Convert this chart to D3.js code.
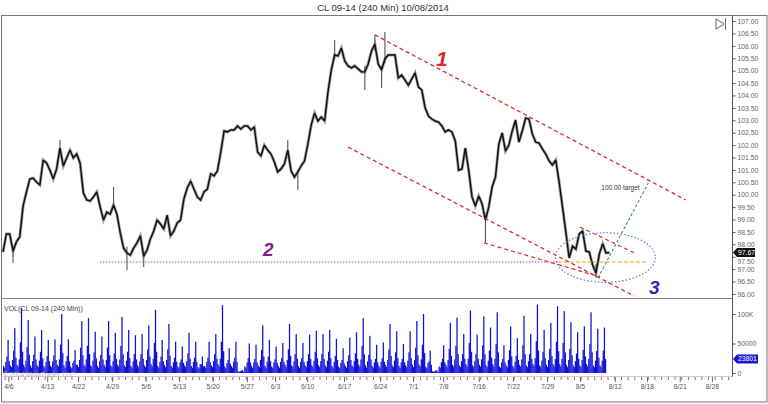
<!DOCTYPE html>
<html><head><meta charset="utf-8">
<script src="https://cdn.jsdelivr.net/npm/d3@7/dist/d3.min.js"></script>
<style>body{margin:0;background:#fff}svg{display:block;font-family:Arial,"Liberation Sans",sans-serif}</style>
</head><body><svg id="c" width="768" height="404"></svg>
<script>
// ---------- DATA ----------
const title = "CL 09-14 (240 Min)  10/08/2014";
const volTitle = "VOL(CL 09-14 (240 Min))";
const copyright = "\u00a9 2014 NinjaTrader, LLC";
// close every half trading day (day index = i * 0.5)
const closeStep = 0.5;
const closes = [97.69,98.42,98.42,97.73,98.10,98.30,99.55,100.11,100.63,100.67,
100.51,100.39,101.40,101.28,100.99,100.63,101.04,101.88,101.16,101.48,
101.80,101.48,101.64,101.28,100.07,99.79,99.75,99.91,100.11,99.51,
98.98,99.30,99.22,99.59,99.22,98.46,97.85,97.65,97.57,97.85,
98.06,98.34,97.53,97.77,98.22,98.54,98.98,98.82,98.62,99.18,
98.34,98.54,98.86,98.98,99.83,100.27,100.55,100.23,99.91,99.79,
100.11,100.23,100.84,100.76,100.96,101.72,102.57,102.53,102.61,102.61,
102.77,102.65,102.77,102.77,102.61,102.73,101.72,101.56,102.00,101.80,
101.64,101.32,100.92,101.04,101.24,101.80,100.96,100.71,100.92,101.16,
101.36,102.04,102.81,103.29,102.97,103.13,102.97,104.14,105.03,105.63,
105.59,105.91,105.39,105.19,105.11,105.19,105.07,104.95,104.95,105.27,
105.79,106.07,105.27,105.03,105.47,105.63,105.63,105.63,104.70,104.82,
104.62,104.42,104.66,104.91,104.34,104.22,103.50,103.17,103.05,102.97,
102.93,102.77,102.53,102.61,102.53,102.17,100.99,101.04,101.88,100.99,
99.91,99.55,99.95,99.63,98.98,99.51,100.31,100.71,102.04,102.49,
101.76,102.00,102.57,103.01,102.12,102.57,103.09,103.05,102.45,102.12,
102.08,101.85,101.64,101.36,101.20,101.40,100.51,99.51,98.50,97.45,
97.93,97.81,98.42,98.54,97.73,97.69,97.17,96.85,97.61,98.02,
97.65,97.67];
// notable wicks (index into closes, high, low)
const wickIdx  = [3,17,33,37,42,85,88,99,108,111,113,114,144,177];
const wickHigh = [97.90,102.21,100.31,97.90,97.70,102.20,101.00,106.23,105.20,106.44,105.20,106.56,99.20,97.20];
const wickLow  = [97.25,101.70,99.50,96.97,97.09,101.60,100.19,105.50,104.22,105.80,104.30,105.30,98.06,96.65];
const lastPrice = 97.67;
// volume per trading day, six 240-min sessions, in thousands of contracts
const volume = [
[12,9,19,28,56,20],[13,10,22,38,76,26],[14,11,23,52,110,36],[14,10,21,44,90,31],[13,9,20,31,62,23],
[13,10,21,36,73,25],[12,9,19,29,56,20],[12,10,20,30,57,22],[14,11,23,48,100,34],[13,9,20,29,57,20],
[11,8,17,21,39,14],[14,10,22,43,88,30],[14,11,23,46,93,32],[13,10,21,35,70,25],[12,9,20,31,62,23],
[14,10,22,43,88,30],[13,10,20,33,68,24],[14,11,23,46,95,32],[13,10,21,36,73,25],[12,9,20,32,64,23],
[13,10,20,32,66,24],[13,10,22,40,81,28],[15,11,24,51,107,36],[12,9,19,28,56,20],[14,10,22,40,83,29],
[12,9,18,26,53,19],[11,9,18,23,45,17],[13,10,20,33,68,24],[12,9,19,26,53,19],[10,8,15,15,28,11],
[12,9,19,26,53,19],[13,10,20,32,66,24],[15,11,24,53,115,37],[11,8,17,22,42,16],[12,9,19,26,53,19],
[3,2,3,4,5,2],[11,9,18,25,50,18],[12,9,18,24,48,18],[13,10,22,39,81,28],[12,9,19,28,56,20],
[11,9,18,23,45,17],[12,9,19,25,51,19],[14,10,22,40,83,29],[13,10,20,32,66,24],[12,9,19,25,51,19],
[13,10,20,32,65,24],[13,10,21,36,72,25],[13,10,20,32,66,24],[13,10,21,36,73,25],[12,9,19,29,58,22],
[11,8,17,22,42,16],[12,9,20,30,60,22],[13,10,20,33,69,24],[14,11,23,46,93,32],[13,9,20,31,63,23],
[12,9,18,24,48,18],[12,9,19,25,52,19],[14,10,22,40,83,29],[13,10,21,35,71,25],[12,9,18,24,49,18],
[13,10,21,35,71,25],[14,10,22,43,88,30],[14,11,23,48,100,34],[11,8,17,20,38,14],[3,2,3,4,5,2],
[11,9,18,24,47,18],[14,10,22,41,85,29],[14,11,23,46,94,32],[13,10,20,32,66,24],[15,11,24,51,106,36],
[13,10,20,32,65,24],[14,11,23,47,96,32],[13,10,21,38,77,26],[15,11,24,49,103,35],[11,9,18,24,47,18],
[13,10,22,39,79,28],[12,9,19,29,59,22],[14,11,23,47,97,32],[13,10,20,32,66,24],[15,12,25,54,116,38],
[13,10,21,36,73,25],[14,10,22,41,85,29],[15,11,24,53,113,37],[15,11,24,51,105,35],[14,10,22,41,86,30],
[13,10,20,33,69,24],[13,10,22,39,79,28],[15,11,24,49,103,35],[13,10,21,37,75,26],[13,10,21,38,77,23.801]];
const lastVolume = 23801;
// axes
const priceTicks = [96,96.5,97,97.5,98,98.5,99,99.5,100,100.5,101,101.5,102,102.5,103,103.5,104,104.5,105,105.5,106,106.5,107];
const volTicks = [0,50,100];
const volTickLabels = ["0","50000","100K"];
const dateLabels = ["4/6","4/13","4/22","4/29","5/6","5/13","5/20","5/27","6/3","6/10","6/17","6/24","7/1","7/8","7/16","7/22","7/29","8/5","8/12","8/18","8/21","8/28"];
const dateDays   = [0.8,6.6,11.2,16.3,21.3,26.3,31.3,36.4,40.6,45.4,50.9,56.3,61.2,65.7,71.0,76.1,81.2,86.1,91.3,96.1,101.0,105.8];
// drawn annotations in (day, price)
const channelUpper = [[55.5,106.44],[101.9,99.79]];
const channelLower = [[51.5,101.92],[94.2,95.92]];
const supportLine  = [[71.8,98.06],[89.1,96.69]];
const wedgeTop     = [[86.1,98.70],[94.3,97.65]];
const targetLine   = [[88.8,96.65],[96.3,100.47]];
const level2 = 97.29, level2Days = [14.5,83.1], levelOrangeDays = [82.8,96.1];
const ellipseCenter = [89.9,97.47], ellipseRadius = [7.46,1.0];
const labels = [
  {t:"1", d:65.5, p:105.19, c:"#e02828", s:21},
  {t:"2", d:39.6, p:97.53, c:"#8a1a8a", s:19},
  {t:"3", d:97.2, p:96.00, c:"#2a2ac0", s:19}];
const targetText = {t:"100.00 target", d:89.3, p:100.19};

// ---------- SCALES ----------
const svg = d3.select("#c");
const x = d3.scaleLinear().domain([0,108.8]).range([3,732]);
const y = d3.scaleLinear().domain([96,107]).range([294,21]);
const yv = d3.scaleLinear().domain([0,100]).range([373,314]);

// frame
svg.append("text").attr("x",383).attr("y",11).attr("text-anchor","middle")
  .attr("font-size",9.5).attr("fill","#333").text(title);
svg.append("rect").attr("x",1.5).attr("y",15.5).attr("width",765.5).attr("height",386.5)
  .attr("fill","none").attr("stroke","#777").attr("stroke-width",1);
svg.append("line").attr("x1",1.5).attr("x2",732.5).attr("y1",298.5).attr("y2",298.5).attr("stroke","#888");
svg.append("line").attr("x1",732.5).attr("x2",732.5).attr("y1",15.5).attr("y2",377).attr("stroke","#555");
svg.append("line").attr("x1",1.5).attr("x2",732.5).attr("y1",376.5).attr("y2",376.5).attr("stroke","#ccc");

// icon
svg.append("path").attr("d","M716,19 L716,29 L724,24 Z").attr("fill","none").attr("stroke","#666");
svg.append("line").attr("x1",725.5).attr("x2",725.5).attr("y1",18).attr("y2",30).attr("stroke","#666");

// price axis
const pa = svg.append("g").attr("transform","translate(732.5,0)")
  .call(d3.axisRight(y).tickValues(priceTicks).tickFormat(d3.format(".2f")).tickSize(3).tickPadding(2));
pa.select(".domain").remove();
pa.selectAll("line").attr("stroke","#555");
pa.selectAll("text").attr("font-size",6.8).attr("fill","#666").attr("font-family","Arial");

// volume axis
const va = svg.append("g").attr("transform","translate(732.5,0)")
  .call(d3.axisRight(yv).tickValues(volTicks).tickFormat((d,i)=>volTickLabels[i]).tickSize(3).tickPadding(2));
va.select(".domain").remove();
va.selectAll("line").attr("stroke","#555");
va.selectAll("text").attr("font-size",6.8).attr("fill","#666").attr("font-family","Arial");

// date axis
const minor = d3.range(0.3,108.5,1);
svg.append("g").selectAll("line").data(minor).join("line")
  .attr("x1",d=>x(d)).attr("x2",d=>x(d)).attr("y1",377).attr("y2",380).attr("stroke","#777");
const da = svg.append("g").attr("transform","translate(0,377)")
  .call(d3.axisBottom(x).tickValues(dateDays).tickFormat((d,i)=>dateLabels[i]).tickSize(5).tickPadding(2));
da.select(".domain").remove();
da.selectAll("line").attr("stroke","#666");
da.selectAll("text").attr("font-size",6.8).attr("fill","#555").attr("font-family","Arial");

// ---------- VOLUME ----------
svg.append("text").attr("x",4).attr("y",311).attr("font-size",7).attr("fill","#444").text(volTitle);
const bw = x(1/6)-x(0);
const vbars = [];
volume.forEach((row,d)=>row.forEach((v,s)=>vbars.push({t:d+s/6,v})));
svg.append("g").selectAll("rect").data(vbars).join("rect")
  .attr("x",d=>x(d.t)).attr("width",bw+0.15)
  .attr("y",d=>yv(d.v)).attr("height",d=>yv(0)-yv(d.v)).attr("fill","#1212d6");
svg.append("text").attr("x",3).attr("y",377).attr("font-size",6.5).attr("fill","#b8b8b8").text(copyright);
// last volume marker
const lvY = yv(lastVolume/1000);
svg.append("path").attr("d",`M733,${lvY} L737,${lvY-4.5} L758,${lvY-4.5} L758,${lvY+4.5} L737,${lvY+4.5} Z`).attr("fill","#1a1ad0");
svg.append("text").attr("x",738).attr("y",lvY+2.4).attr("font-size",6.8).attr("fill","#fff").text(d3.format("d")(lastVolume));

// ---------- PRICE ----------
svg.append("clipPath").attr("id","pc").append("rect").attr("x",2).attr("y",16).attr("width",730).attr("height",282);
const pts = closes.map((c,i)=>[x(i*closeStep),y(c)]);
const g = svg.append("g").attr("clip-path","url(#pc)");
g.append("path").attr("d",d3.line()(pts)).attr("fill","none").attr("stroke","#a0a0a0").attr("stroke-width",3.0).attr("stroke-linejoin","miter");
g.append("g").selectAll("line").data(wickIdx).join("line")
  .attr("x1",i=>x(i*closeStep)).attr("x2",i=>x(i*closeStep))
  .attr("y1",(i,k)=>y(wickHigh[k])).attr("y2",(i,k)=>y(wickLow[k])).attr("stroke","#555").attr("stroke-width",1.1);
g.append("path").attr("d",d3.line()(pts)).attr("fill","none").attr("stroke","#111").attr("stroke-width",1.45).attr("stroke-linejoin","miter").attr("stroke-miterlimit",2);

// annotations
const seg = (a,col,dash,w)=>g.append("line").attr("x1",x(a[0][0])).attr("y1",y(a[0][1])).attr("x2",x(a[1][0])).attr("y2",y(a[1][1]))
  .attr("stroke",col).attr("stroke-dasharray",dash).attr("stroke-width",w);
g.append("line").attr("x1",x(level2Days[0])).attr("x2",x(level2Days[1])).attr("y1",y(level2)).attr("y2",y(level2))
  .attr("stroke","#a020b0").attr("stroke-dasharray","1.2,1.8").attr("stroke-width",1.2);
g.append("line").attr("x1",x(levelOrangeDays[0])).attr("x2",x(levelOrangeDays[1])).attr("y1",y(level2)).attr("y2",y(level2))
  .attr("stroke","#f0a010").attr("stroke-dasharray","4,2").attr("stroke-width",1.2);
seg(channelUpper,"#dc2b2b","4,3",1.3);
seg(channelLower,"#dc2b2b","4,3",1.3);
seg(supportLine,"#dc2b2b","4,3",1.2);
seg(wedgeTop,"#dc2b2b","4,3",1.2);
seg(targetLine,"#3a9a5a","3,2",1.1);
g.append("ellipse").attr("cx",x(ellipseCenter[0])).attr("cy",y(ellipseCenter[1]))
  .attr("rx",x(ellipseRadius[0])-x(0)).attr("ry",y(96)-y(96+ellipseRadius[1]))
  .attr("fill","none").attr("stroke","#5a80c8").attr("stroke-dasharray","1.5,2").attr("stroke-width",1.2);
g.append("text").attr("x",x(targetText.d)).attr("y",y(targetText.p)).attr("font-size",6.5).attr("fill","#333").text(targetText.t);
svg.append("g").selectAll("text").data(labels).join("text")
  .attr("x",d=>x(d.d)).attr("y",d=>y(d.p)).attr("text-anchor","middle")
  .attr("font-size",d=>d.s).attr("font-weight","bold").attr("font-style","italic")
  .attr("fill",d=>d.c).text(d=>d.t);

// last price marker (covers the 97.50 tick label as in the reference)
const lpY = y(lastPrice);
pa.selectAll(".tick").filter(d=>Math.abs(y(d)-lpY)<8).select("text").attr("dy","0.95em");
svg.append("path").attr("d",`M733,${lpY} L737,${lpY-4.5} L755,${lpY-4.5} L755,${lpY+4.5} L737,${lpY+4.5} Z`).attr("fill","#111");
svg.append("text").attr("x",738).attr("y",lpY+2.4).attr("font-size",6.8).attr("fill","#fff").text(d3.format(".2f")(lastPrice));
</script></body></html>
